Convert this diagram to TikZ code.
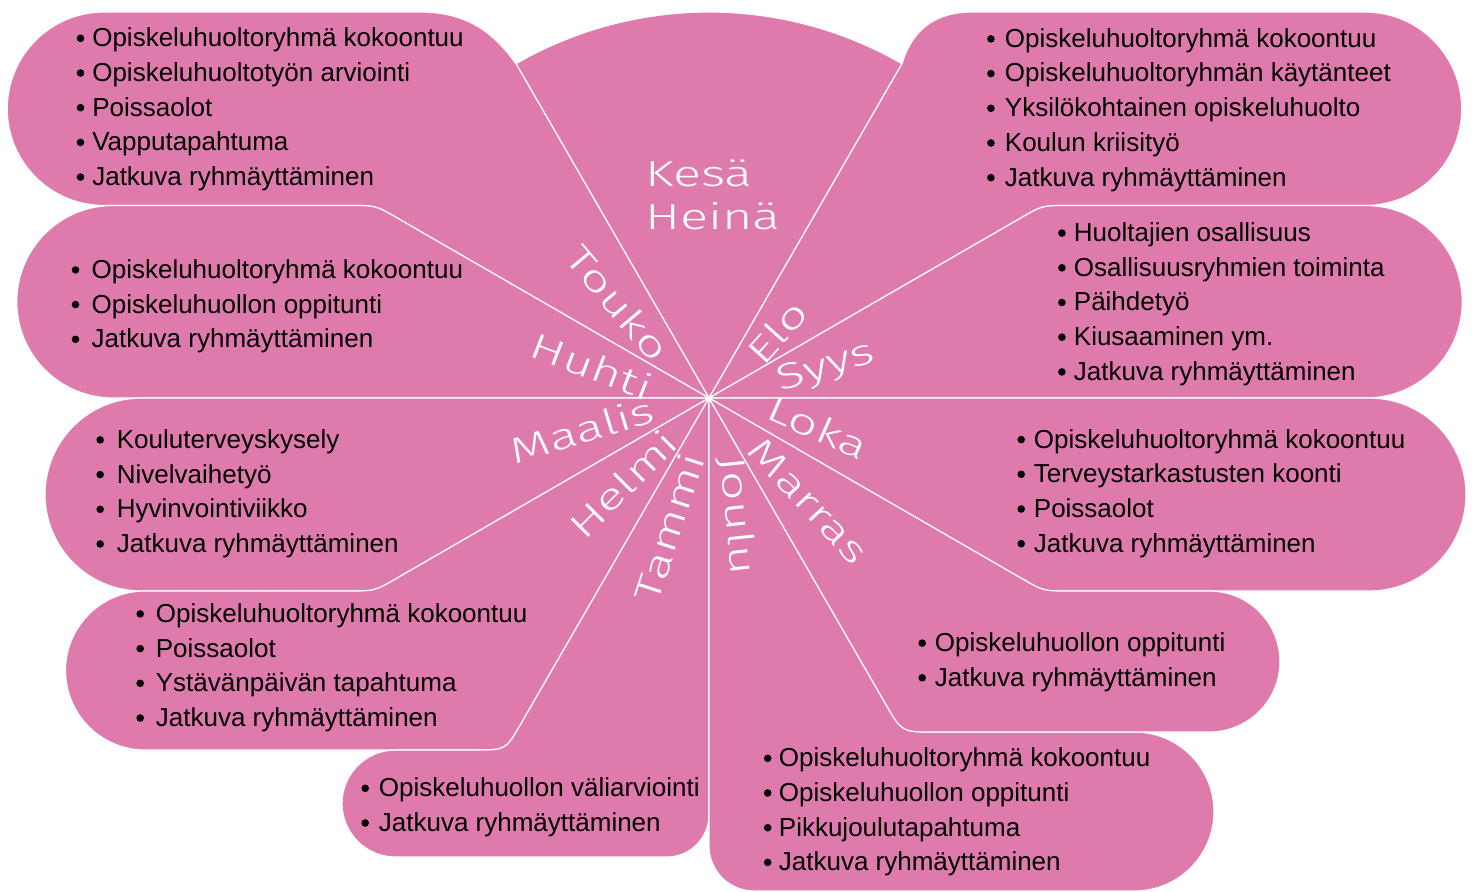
\documentclass[tikz,border=0pt]{standalone}
\usepackage{fontspec}
\setmainfont{Liberation Sans}
\newfontfamily\widefont[FakeStretch=1.45]{Fira Sans Light}
\usetikzlibrary{calc}
\definecolor{petal}{RGB}{223,123,172}
\newlength\bgap
\newcommand\bul{\tikz[baseline=0pt]\fill[black] (0pt,8.4pt) circle[radius=3.8pt];\hspace{\bgap}}
\newcommand\bitem[1]{\hbox{\bul #1}}
\newcommand\blist[2][9pt]{\vtop{\setlength\bgap{#1}\baselineskip=34.7pt\lineskiplimit=-100pt\lineskip=0pt #2}}
\begin{document}
\begin{tikzpicture}[x=1pt,y=-1pt,
  region/.style={fill=petal,draw=white,line width=1.2pt,line join=round},
  items/.style={anchor=base west,inner sep=0pt,font=\fontsize{26}{34.7}\selectfont,text=black},
  month/.style={text=white,inner sep=0pt,font=\widefont\fontsize{36}{40}\selectfont}]
\useasboundingbox (0,0) rectangle (1474,891);
\coordinate (C) at (709,398);
\coordinate (a120) at (516,63.7);
\coordinate (a60) at (902,63.7);
\coordinate (v150) at (375.6,205.5);
\coordinate (v30) at (1042.4,205.5);
\coordinate (v210) at (374.7,591);
\coordinate (v330) at (1043.3,591);
\coordinate (v240) at (505.8,750);
\coordinate (v300) at (901.8,732);

% Kesa-Heina
\path[region] (C) -- (a120) arc[start angle=-120,end angle=-60,radius=386] -- cycle;
% Touko
\path[region] (C) -- (a120) .. controls (495,35) and (470,12) .. (420,12) -- (104,12)
  arc[start angle=-90,end angle=-270,radius=96.75]
  -- ($(v150)!25pt!(104,205.5)$) .. controls (v150) .. ($(v150)!25pt!(C)$) -- cycle;
% Elo
\path[region] (C) -- (a60) .. controls (912,30) and (935,12) .. (972,12) -- (1365,12)
  arc[start angle=-90,end angle=90,radius=96.75]
  -- ($(v30)!25pt!(1365,205.5)$) .. controls (v30) .. ($(v30)!25pt!(C)$) -- cycle;
% Huhti
\path[region] (C) -- ($(v150)!25pt!(C)$) .. controls (v150) .. ($(v150)!25pt!(113,205.5)$)
  -- (113,205.5) arc[start angle=-90,end angle=-270,radius=96.25] -- cycle;
% Syys
\path[region] (C) -- ($(v30)!25pt!(C)$) .. controls (v30) .. ($(v30)!25pt!(1366,205.5)$)
  -- (1366,205.5) arc[start angle=-90,end angle=90,radius=96.25] -- cycle;
% Maalis
\path[region] (C) -- (141.5,398) arc[start angle=-90,end angle=-270,radius=96.5]
  -- ($(v210)!25pt!(141.5,591)$) .. controls (v210) .. ($(v210)!25pt!(C)$) -- cycle;
% Loka
\path[region] (C) -- (1369.5,398) arc[start angle=-90,end angle=90,radius=96.5]
  -- ($(v330)!25pt!(1369.5,591)$) .. controls (v330) .. ($(v330)!25pt!(C)$) -- cycle;
% Helmi
\path[region] (C) -- ($(v210)!25pt!(C)$) .. controls (v210) .. ($(v210)!25pt!(145,591)$)
  -- (145,591) arc[start angle=-90,end angle=-270,radius=79.5]
  -- ($(v240)!30pt!(145,750)$) .. controls (v240) .. ($(v240)!30pt!(C)$) -- cycle;
% Tammi
\path[region] (C) -- ($(v240)!30pt!(C)$) .. controls (v240) .. ($(v240)!30pt!(395.5,750)$)
  -- (395.5,750) arc[start angle=-90,end angle=-270,radius=53.5]
  -- (667,857) arc[start angle=90,end angle=0,radius=42] -- cycle;
% Joulu
\path[region] (C) -- (709,846) arc[start angle=180,end angle=90,radius=45]
  -- (1134.5,891) arc[start angle=90,end angle=-90,radius=79.5]
  -- ($(v300)!32pt!(1134.5,732)$) .. controls (v300) .. ($(v300)!32pt!(C)$) -- cycle;
% Marras
\path[region] (C) -- ($(v300)!32pt!(C)$) .. controls (v300) .. ($(v300)!32pt!(1209.5,732)$)
  -- (1209.5,732) arc[start angle=90,end angle=-90,radius=70.5]
  -- ($(v330)!25pt!(1209.5,591)$) .. controls (v330) .. ($(v330)!25pt!(C)$) -- cycle;

% month labels
\node[month,anchor=base west] (kesa) at (645,186) {Kesä};
\node[month,anchor=base west] (heina) at (645,229) {Heinä};
\node[month,rotate=-50] (touko) at (618,303) {Touko};
\node[month,rotate=-21] (huhti) at (592,366) {Huhti};
\node[month,rotate=17] (maalis) at (582,430) {Maalis};
\node[month,rotate=45] (helmi) at (623,484) {Helmi};
\node[month,rotate=72] (tammi) at (669,527) {Tammi};
\node[month,rotate=-84] (joulu) at (737,516) {Joulu};
\node[month,rotate=-47] (marras) at (808,501) {Marras};
\node[month,rotate=-24] (loka) at (818,427) {Loka};
\node[month,rotate=17] (syys) at (826,368) {Syys};
\node[month,rotate=48] (elo) at (777,332) {Elo};

% item lists
\node[items] (tTouko) at (76.5,46.7) {\blist[8pt]{\bitem{Opiskeluhuoltoryhmä kokoontuu}\bitem{Opiskeluhuoltotyön arviointi}\bitem{Poissaolot}\bitem{Vapputapahtuma}\bitem{Jatkuva ryhmäyttäminen}}};
\node[items] (tElo) at (986.9,47.3) {\blist[10.2pt]{\bitem{Opiskeluhuoltoryhmä kokoontuu}\bitem{Opiskeluhuoltoryhmän käytänteet}\bitem{Yksilökohtainen opiskeluhuolto}\bitem{Koulun kriisityö}\bitem{Jatkuva ryhmäyttäminen}}};
\node[items] (tHuhti) at (71.5,278.3) {\blist[12.3pt]{\bitem{Opiskeluhuoltoryhmä kokoontuu}\bitem{Opiskeluhuollon oppitunti}\bitem{Jatkuva ryhmäyttäminen}}};
\node[items] (tSyys) at (1057.9,241.5) {\blist[8.2pt]{\bitem{Huoltajien osallisuus}\bitem{Osallisuusryhmien toiminta}\bitem{Päihdetyö}\bitem{Kiusaaminen ym.}\bitem{Jatkuva ryhmäyttäminen}}};
\node[items] (tMaalis) at (96.2,448.3) {\blist[12.9pt]{\bitem{Kouluterveyskysely}\bitem{Nivelvaihetyö}\bitem{Hyvinvointiviikko}\bitem{Jatkuva ryhmäyttäminen}}};
\node[items] (tLoka) at (1017.2,448) {\blist[8.9pt]{\bitem{Opiskeluhuoltoryhmä kokoontuu}\bitem{Terveystarkastusten koonti}\bitem{Poissaolot}\bitem{Jatkuva ryhmäyttäminen}}};
\node[items] (tHelmi) at (136.2,622.3) {\blist[11.9pt]{\bitem{Opiskeluhuoltoryhmä kokoontuu}\bitem{Poissaolot}\bitem{Ystävänpäivän tapahtuma}\bitem{Jatkuva ryhmäyttäminen}}};
\node[items] (tMarras) at (918.2,651.5) {\blist[8.9pt]{\bitem{Opiskeluhuollon oppitunti}\bitem{Jatkuva ryhmäyttäminen}}};
\node[items] (tTammi) at (361.2,796.7) {\blist[9.9pt]{\bitem{Opiskeluhuollon väliarviointi}\bitem{Jatkuva ryhmäyttäminen}}};
\node[items] (tJoulu) at (763.7,766.7) {\blist[7.4pt]{\bitem{Opiskeluhuoltoryhmä kokoontuu}\bitem{Opiskeluhuollon oppitunti}\bitem{Pikkujoulutapahtuma}\bitem{Jatkuva ryhmäyttäminen}}};
\end{tikzpicture}
\end{document}
